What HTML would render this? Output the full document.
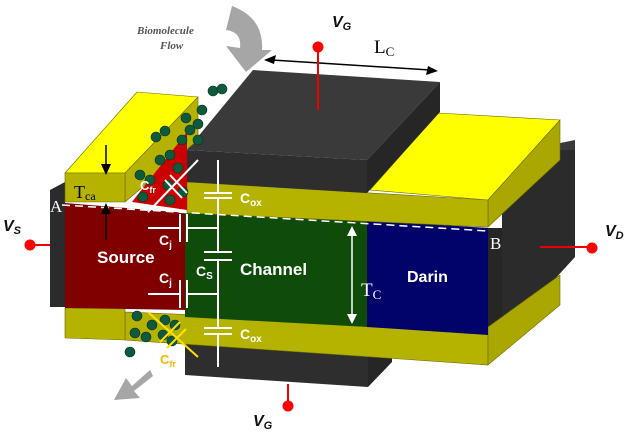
<!DOCTYPE html>
<html><head><meta charset="utf-8"><style>
html,body{margin:0;padding:0;background:#fff;width:629px;height:434px;overflow:hidden}
svg{display:block}
.s{font-family:"Liberation Sans",sans-serif}
.r{font-family:"Liberation Serif",serif}
</style></head><body>
<svg width="629" height="434" viewBox="0 0 629 434" xmlns="http://www.w3.org/2000/svg">
<polygon points="502,155 520,150 575,150 575,257 502,337" fill="#2b2b2b"/>
<polygon points="502,155 575,140 575,150 520,150" fill="#3a3a3a"/>
<polygon points="488,228 502,228 502,337 488,336" fill="#262626"/>
<polygon points="50,190 65,182 65,307 50,307" fill="#2b2b2b"/>
<polygon points="185,340 368,350 368,387 185,375" fill="#2e2e2e"/>
<polygon points="368,350 392,330 392,362 368,387" fill="#262626"/>
<polygon points="125,312 488,327 488,365 125,340" fill="#b5b300" stroke="#6b6a00" stroke-width="0.6"/>
<polygon points="488,327 560,275 560,305 488,365" fill="#a9a700" stroke="#6b6a00" stroke-width="0.6"/>
<polygon points="65,308 125,308 125,340 65,338" fill="#b5b300" stroke="#6b6a00" stroke-width="0.6"/>
<polygon points="65,203 187,213 187,310 65,308" fill="#800000"/>
<polygon points="185,213 368,220 368,327 185,317" fill="#0f4c0a"/>
<polygon points="367,220 488,228 488,335 367,327" fill="#02026b"/>
<polygon points="370,190 438,113 560,120 488,200" fill="#ffff00" stroke="#6b6a00" stroke-width="0.6"/>
<polygon points="488,200 560,120 560,160 488,227" fill="#a9a700" stroke="#6b6a00" stroke-width="0.6"/>
<polygon points="187,182 488,200 488,227 187,213" fill="#b5b300" stroke="#6b6a00" stroke-width="0.6"/>
<polygon points="253,70 440,82 367,160 187,150" fill="#3a3a3a"/>
<polygon points="367,160 440,82 440,112 367,193" fill="#262626"/>
<polygon points="187,150 367,160 367,193 187,182" fill="#2e2e2e"/>
<polygon points="65,173 137,92 198,97 125,173" fill="#ffff00" stroke="#6b6a00" stroke-width="0.6"/>
<polygon points="125,173 198,97 198,140 125,202" fill="#b5b300" stroke="#6b6a00" stroke-width="0.6"/>
<polygon points="65,173 125,173 125,202 65,202" fill="#b5b300" stroke="#6b6a00" stroke-width="0.6"/>
<polygon points="132,202 187,132 187,210" fill="#cc0000"/>
<g fill="#0f5a3c" stroke="#083020" stroke-width="0.6">
<circle cx="213" cy="91" r="5"/><circle cx="222" cy="89" r="5"/><circle cx="202" cy="110" r="5"/>
<circle cx="198" cy="124" r="5"/><circle cx="186" cy="118" r="5"/><circle cx="190" cy="130" r="5"/><circle cx="182" cy="140" r="5"/>
<circle cx="165" cy="131" r="5"/><circle cx="156" cy="137" r="5"/><circle cx="198" cy="140" r="5"/>
<circle cx="170" cy="155" r="5"/><circle cx="160" cy="160" r="5"/><circle cx="178" cy="168" r="5"/>
<circle cx="140" cy="175" r="5"/><circle cx="150" cy="180" r="5"/><circle cx="168" cy="185" r="5"/>
<circle cx="143" cy="197" r="5"/><circle cx="170" cy="200" r="5"/><circle cx="183" cy="192" r="5"/>
<circle cx="137" cy="316" r="5"/><circle cx="135" cy="333" r="5"/><circle cx="146" cy="337" r="5"/>
<circle cx="152" cy="325" r="5"/><circle cx="165" cy="320" r="5"/><circle cx="163" cy="335" r="5"/>
<circle cx="175" cy="325" r="5"/><circle cx="172" cy="341" r="5"/><circle cx="130" cy="352" r="5"/>
</g>
<path d="M232,6 Q264,18 262,50 L272,50 L246,72 L226,46 L240,48 Q242,32 226,30 Z" fill="#a6a6a6"/>
<path d="M150,370 L132,386 L126,378 L114,400 L140,398 L134,391 L153,376 Z" fill="#a6a6a6"/>
<text x="137" y="34" class="r" font-style="italic" font-weight="bold" font-size="11" fill="#555">Biomolecule</text>
<text x="160" y="49" class="r" font-style="italic" font-weight="bold" font-size="11" fill="#555">Flow</text>
<line x1="62" y1="205" x2="488" y2="231" stroke="#fff" stroke-width="1.5" stroke-dasharray="8,5"/>
<g stroke="#fff" stroke-width="2" fill="none">
<line x1="218" y1="160" x2="218" y2="193"/><line x1="218" y1="198" x2="218" y2="252"/><line x1="218" y1="260" x2="218" y2="328"/><line x1="218" y1="334" x2="218" y2="367"/>
<line x1="204" y1="193" x2="232" y2="193"/><line x1="204" y1="198" x2="232" y2="198"/>
<line x1="204" y1="252" x2="232" y2="252"/><line x1="204" y1="260" x2="232" y2="260"/>
<line x1="204" y1="328" x2="232" y2="328"/><line x1="204" y1="334" x2="232" y2="334"/>
<line x1="148" y1="228" x2="180" y2="228"/><line x1="180" y1="214" x2="180" y2="242"/><line x1="187" y1="214" x2="187" y2="242"/><line x1="187" y1="228" x2="218" y2="228"/>
<line x1="148" y1="294" x2="180" y2="294"/><line x1="180" y1="280" x2="180" y2="308"/><line x1="187" y1="280" x2="187" y2="308"/><line x1="187" y1="294" x2="218" y2="294"/>
<line x1="148" y1="212" x2="198" y2="160"/><line x1="165" y1="180" x2="182" y2="198"/><line x1="170" y1="175" x2="187" y2="193"/>
</g>
<g stroke="#ffe000" stroke-width="2">
<line x1="148" y1="312" x2="198" y2="357"/><line x1="160" y1="342" x2="180" y2="322"/><line x1="167" y1="348" x2="186" y2="329"/>
</g>
<g fill="#fff" font-weight="bold" class="s">
<text x="140" y="190" font-size="13">C<tspan font-size="9" dy="3">fr</tspan></text>
<text x="240" y="203" font-size="14">C<tspan font-size="10" dy="3">ox</tspan></text>
<text x="240" y="339" font-size="14">C<tspan font-size="10" dy="3">ox</tspan></text>
<text x="159" y="245" font-size="14">C<tspan font-size="10" dy="3">j</tspan></text>
<text x="159" y="283" font-size="14">C<tspan font-size="10" dy="3">j</tspan></text>
<text x="196" y="276" font-size="14">C<tspan font-size="10" dy="3">S</tspan></text>
<text x="97" y="263" font-size="17">Source</text>
<text x="240" y="275" font-size="17">Channel</text>
<text x="407" y="282" font-size="16">Darin</text>
</g>
<text x="160" y="364" class="s" font-size="13" font-weight="bold" fill="#f5b800">C<tspan font-size="9" dy="3">fr</tspan></text>
<line x1="352" y1="232" x2="352" y2="318" stroke="#fff" stroke-width="1.5"/>
<polygon points="352,226 347,236 357,236" fill="#fff"/><polygon points="352,324 347,314 357,314" fill="#fff"/>
<text x="361" y="296" class="r" font-size="19" fill="#fff">T<tspan font-size="13" dy="3">C</tspan></text>
<line x1="106" y1="145" x2="106" y2="170" stroke="#000" stroke-width="1.5"/><polygon points="106,175 101,164 111,164" fill="#000"/>
<line x1="106" y1="240" x2="106" y2="210" stroke="#000" stroke-width="1.5"/><polygon points="106,203 101,214 111,214" fill="#000"/>
<text x="74" y="198" class="r" font-size="18" fill="#000">T<tspan font-size="12" dy="2">ca</tspan></text>
<text x="50" y="212" class="r" font-size="17" fill="#fff">A</text>
<text x="490" y="249" class="r" font-size="17" fill="#fff">B</text>
<line x1="272" y1="60" x2="430" y2="70" stroke="#000" stroke-width="1.5"/>
<polygon points="264,60 276,55 274,64" fill="#000"/><polygon points="438,71 426,75 428,66" fill="#000"/>
<text x="374" y="53" class="r" font-size="19" fill="#000">L<tspan font-size="13" dy="3">C</tspan></text>
<g stroke="#e00" stroke-width="2"><line x1="318" y1="48" x2="318" y2="110"/><line x1="30" y1="245" x2="50" y2="245"/><line x1="540" y1="247" x2="592" y2="247"/><line x1="288" y1="384" x2="288" y2="405"/></g>
<g fill="#f00"><circle cx="318" cy="47" r="5.5"/><circle cx="30" cy="245" r="5.5"/><circle cx="592" cy="248" r="5.5"/><circle cx="288" cy="406" r="5.5"/></g>
<g font-weight="bold" font-style="italic" fill="#111" class="s">
<text x="332" y="27" font-size="16">V<tspan font-size="11" dy="3">G</tspan></text>
<text x="3" y="231" font-size="16">V<tspan font-size="11" dy="3">S</tspan></text>
<text x="605" y="236" font-size="16">V<tspan font-size="11" dy="3">D</tspan></text>
<text x="253" y="426" font-size="16">V<tspan font-size="11" dy="3">G</tspan></text>
</g>
</svg>
</body></html>
